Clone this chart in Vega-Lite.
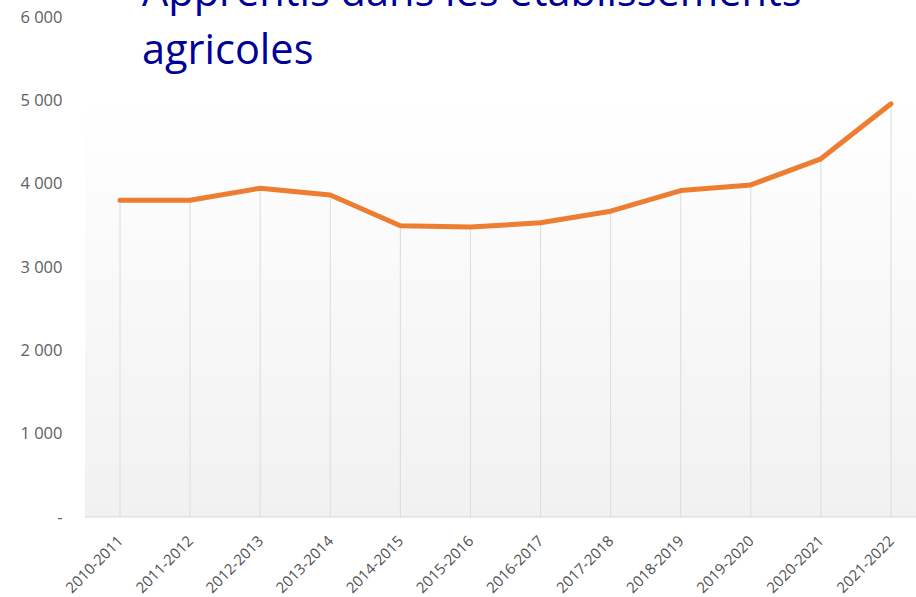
{
  "$schema": "https://vega.github.io/schema/vega-lite/v6.json",
  "autosize": {"type": "none"},
  "width": 831,
  "height": 500,
  "padding": {"left": 85, "top": 17, "right": 0, "bottom": 80},
  "background": "white",
  "config": {"view": {"stroke": null}},
  "title": {
    "text": ["Apprentis dans les établissements", "agricoles"],
    "anchor": "start",
    "frame": "group",
    "orient": "top",
    "offset": 0,
    "dx": 57,
    "dy": 96,
    "baseline": "alphabetic",
    "lineHeight": 58,
    "font": "Open Sans",
    "fontSize": 41.5,
    "fontWeight": "normal",
    "color": "#000099"
  },
  "data": {"values": [
    {"annee": "2010-2011", "apprentis": 3800},
    {"annee": "2011-2012", "apprentis": 3800},
    {"annee": "2012-2013", "apprentis": 3945},
    {"annee": "2013-2014", "apprentis": 3865},
    {"annee": "2014-2015", "apprentis": 3495},
    {"annee": "2015-2016", "apprentis": 3480},
    {"annee": "2016-2017", "apprentis": 3530},
    {"annee": "2017-2018", "apprentis": 3670},
    {"annee": "2018-2019", "apprentis": 3917},
    {"annee": "2019-2020", "apprentis": 3985},
    {"annee": "2020-2021", "apprentis": 4298},
    {"annee": "2021-2022", "apprentis": 4958}
  ]},
  "layer": [
    {
      "data": {"values": [{}]},
      "mark": {"type": "rect", "fill": {"gradient": "linear", "x1": 0, "y1": 0, "x2": 0, "y2": 1, "stops": [{"offset": 0, "color": "#ffffff"}, {"offset": 1, "color": "#f1f1f1"}]}},
      "encoding": {
        "y": {"datum": 0, "type": "quantitative", "title": null},
        "y2": {"datum": 5000}
      }
    },
    {
      "data": {"values": [{}]},
      "mark": {"type": "rule", "color": "#d9d9d9", "strokeWidth": 1},
      "encoding": {
        "y": {"datum": 0, "type": "quantitative", "title": null}
      }
    },
    {
      "mark": {"type": "rule", "color": "#dcdcdc", "strokeWidth": 1},
      "encoding": {
        "x": {"field": "annee", "type": "ordinal", "title": null},
        "y": {"field": "apprentis", "type": "quantitative", "title": null},
        "y2": {"datum": 0}
      }
    },
    {
      "mark": {"type": "line", "color": "#ED7D31", "strokeWidth": 5, "strokeCap": "round", "strokeJoin": "round"},
      "encoding": {
        "x": {
          "field": "annee", "type": "ordinal", "title": null,
          "scale": {"type": "point", "range": [35, 806], "padding": 0},
          "axis": {"labelAngle": -45, "domain": false, "ticks": false, "grid": false, "labelPadding": 21, "labelFontSize": 15, "labelFont": "Open Sans", "labelColor": "#505050"}
        },
        "y": {
          "field": "apprentis", "type": "quantitative", "title": null,
          "scale": {"domain": [0, 6000], "nice": false},
          "axis": {"values": [0, 1000, 2000, 3000, 4000, 5000, 6000], "labelExpr": "datum.value == 0 ? '-' : replace(format(datum.value, ','), ',', ' ')", "domain": false, "ticks": false, "grid": false, "labelPadding": 23, "labelFontSize": 16.5, "labelFont": "Open Sans", "labelColor": "#606060"}
        }
      }
    }
  ]
}
